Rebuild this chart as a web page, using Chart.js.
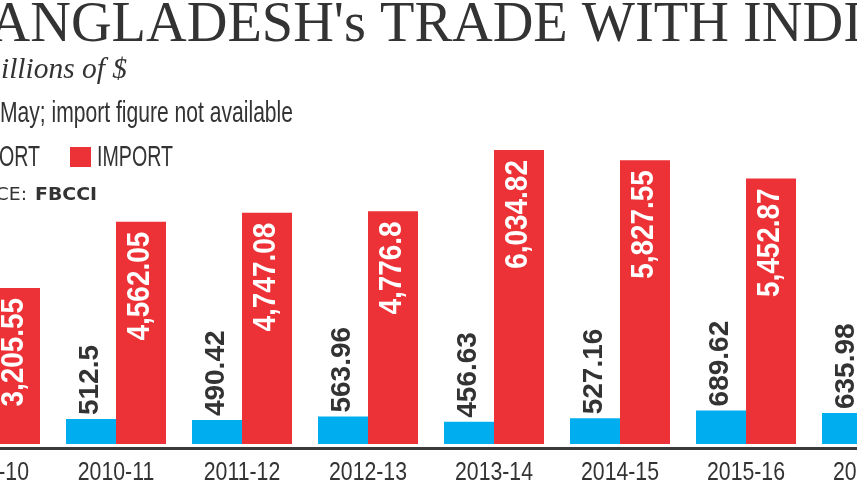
<!DOCTYPE html>
<html>
<head>
<meta charset="utf-8">
<script src="https://cdn.jsdelivr.net/npm/chart.js@4/dist/chart.umd.min.js"></script>
<style>
  html, body { margin: 0; padding: 0; background: #ffffff; overflow: hidden; width: 857px; height: 482px; }
  #wrap { position: absolute; left: -73px; top: 0; width: 1008px; height: 482px; }
</style>
</head>
<body>
<div id="wrap"><canvas id="c" width="1008" height="482"></canvas></div>
<script>
const categories = ['2009-10', '2010-11', '2011-12', '2012-13', '2013-14', '2014-15', '2015-16', '2016-17'];
const exportValues = [304.63, 512.5, 490.42, 563.96, 456.63, 527.16, 689.62, 635.98];
const importValues = [3205.55, 4562.05, 4747.08, 4776.8, 6034.82, 5827.55, 5452.87, null];
const seriesNames = ['EXPORT', 'IMPORT'];
const titleText = "BANGLADESH's TRADE WITH INDIA";
const unitText = 'In millions of $';
const noteText = '*Till May; import figure not available';
const sourceLabel = 'SOURCE:';
const sourceName = 'FBCCI';

const BLUE = '#00aeef';
const RED = '#ed3237';
const INK = '#333333';
const OFF = 73; // canvas x offset vs. page x

function fmt(v) {
  return v.toLocaleString('en-US', { maximumFractionDigits: 2 });
}

function scaledText(ctx, txt, x, y, sx, align) {
  ctx.save();
  ctx.translate(x, y);
  ctx.scale(sx, 1);
  ctx.textAlign = align;
  ctx.fillText(txt, 0, 0);
  ctx.restore();
}

const textPlugin = {
  id: 'texts',
  afterDraw(chart) {
    const ctx = chart.ctx;
    ctx.save();
    ctx.fillStyle = INK;
    ctx.textBaseline = 'alphabetic';

    // Title
    ctx.font = '56px "Liberation Serif", "DejaVu Serif", serif';
    const sxT = 363 / ctx.measureText('TRADE WITH ').width;
    const wPre = ctx.measureText("BANGLADESH's ").width;
    scaledText(ctx, titleText, 380 - sxT * wPre + OFF, 41, sxT, 'left');

    // Unit line
    ctx.font = 'italic 30px "Liberation Serif", "DejaVu Serif", serif';
    const sxU = 126 / ctx.measureText('illions of $').width;
    scaledText(ctx, unitText, 127 + OFF, 78, sxU, 'right');

    // Note line
    ctx.font = '29px "Liberation Sans", "DejaVu Sans", sans-serif';
    const sxN = 293 / ctx.measureText('May; import figure not available').width;
    scaledText(ctx, noteText, 293 + OFF, 122, sxN, 'right');

    // Legend
    ctx.font = '29px "Liberation Sans", "DejaVu Sans", sans-serif';
    const sxL = 76 / ctx.measureText(seriesNames[1]).width;
    const wExp = ctx.measureText(seriesNames[0]).width * sxL;
    ctx.fillStyle = RED;
    ctx.fillRect(70 + OFF, 147, 21, 20);
    ctx.fillStyle = BLUE;
    ctx.fillRect(40 - wExp - 6 - 21 + OFF, 147, 21, 20);
    ctx.fillStyle = INK;
    scaledText(ctx, seriesNames[1], 97 + OFF, 166, sxL, 'left');
    scaledText(ctx, seriesNames[0], 40 + OFF, 166, sxL, 'right');

    // Source
    ctx.font = 'bold 17px "DejaVu Sans", sans-serif';
    const sxS = 62 / ctx.measureText(sourceName).width;
    scaledText(ctx, sourceName, 35 + OFF, 200, sxS, 'left');
    ctx.font = '17px "DejaVu Sans", sans-serif';
    scaledText(ctx, sourceLabel, 27 + OFF, 200, sxS, 'right');

    // Category labels along the x scale
    const xs = chart.scales.x;
    ctx.font = '26px "Liberation Sans", "DejaVu Sans", sans-serif';
    const sxX = 78 / ctx.measureText('2013-14').width;
    categories.forEach((c, i) => {
      scaledText(ctx, c, xs.getPixelForTick(i), 480, sxX, 'center');
    });

    ctx.restore();
  }
};

const valueLabels = {
  id: 'valueLabels',
  afterDatasetsDraw(chart) {
    const ctx = chart.ctx;
    chart.data.datasets.forEach((ds, di) => {
      const meta = chart.getDatasetMeta(di);
      meta.data.forEach((bar, i) => {
        const v = ds.data[i];
        if (v === null || v === undefined) return;
        const txt = fmt(v);
        ctx.save();
        ctx.textBaseline = 'alphabetic';
        if (di === 0) {
          ctx.font = 'bold 28px "Liberation Sans", "DejaVu Sans", sans-serif';
          ctx.fillStyle = INK;
          ctx.translate(bar.x + 6.5, bar.y - 4);
          ctx.rotate(-Math.PI / 2);
          ctx.textAlign = 'left';
          ctx.fillText(txt, 0, 0);
        } else {
          ctx.font = 'bold 31px "Liberation Sans", "DejaVu Sans", sans-serif';
          ctx.fillStyle = '#ffffff';
          ctx.translate(bar.x + 8, bar.y + 10);
          ctx.rotate(-Math.PI / 2);
          ctx.scale(0.9, 1);
          ctx.textAlign = 'right';
          ctx.fillText(txt, 0, 0);
        }
        ctx.restore();
      });
    });
  }
};

new Chart(document.getElementById('c'), {
  type: 'bar',
  data: {
    labels: categories,
    datasets: [
      { label: seriesNames[0], data: exportValues, backgroundColor: BLUE, borderWidth: 0 },
      { label: seriesNames[1], data: importValues, backgroundColor: RED, borderWidth: 0 }
    ]
  },
  options: {
    responsive: false,
    animation: false,
    devicePixelRatio: 1,
    layout: { padding: { top: 100, left: 0, right: 0, bottom: 33.5 } },
    plugins: { legend: { display: false }, tooltip: { enabled: false }, title: { display: false } },
    datasets: { bar: { categoryPercentage: 100 / 126, barPercentage: 1.0 } },
    scales: {
      x: {
        offset: true,
        grid: { display: false, drawTicks: false },
        border: { display: true, color: '#3a3a3a', width: 3 },
        ticks: { display: false }
      },
      y: { display: false, min: -92.5, max: 7063.5 }
    }
  },
  plugins: [valueLabels, textPlugin]
});
</script>
</body>
</html>
